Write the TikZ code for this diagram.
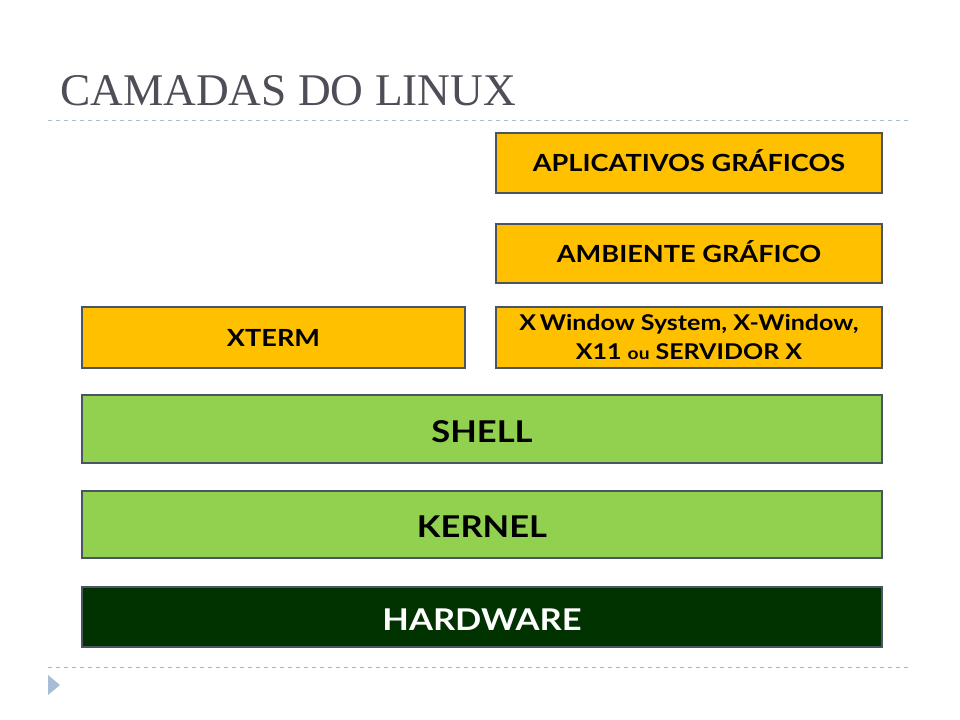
\documentclass[tikz,border=0pt]{standalone}
\usepackage{fontspec}
\setmainfont{Lato}[FakeStretch=1.15]
\newfontfamily\titlefont{Liberation Serif}
\definecolor{orangebox}{HTML}{FFC000}
\definecolor{greenbox}{HTML}{92D050}
\definecolor{darkbox}{HTML}{003300}
\definecolor{boxline}{HTML}{4A5462}
\definecolor{titlegray}{HTML}{4E4E58}
\definecolor{dashblue}{HTML}{A9BCCB}
\definecolor{trifill}{HTML}{A6BDD3}
\begin{document}
\begin{tikzpicture}[x=0.75pt,y=-0.75pt,
  layerbox/.style={draw=boxline,line width=1.5pt,inner sep=0pt,align=center,font=\bfseries},
  smalltxt/.style={font=\bfseries\fontsize{17.7}{20}\selectfont,text height=13.5pt,text depth=0pt},
  bigtxt/.style={font=\bfseries\fontsize{22.5}{24}\selectfont,text height=20pt,text depth=0pt}]
\useasboundingbox[fill=white] (0,0) rectangle (960,720);
\node[anchor=base west,text=titlegray,inner sep=0pt,font=\titlefont\fontsize{34}{36}\selectfont] (title) at (60,106) {CAMADAS DO LINUX};
\draw[dashblue,dashed,line width=0.75pt] (48,121) -- (912,121);
\draw[gray!60,dashed,line width=0.75pt] (48,667) -- (912,667);
\fill[trifill] (48,675) -- (60,685) -- (48,695) -- cycle;
\node[layerbox,fill=orangebox,minimum width=386*0.75pt,minimum height=60*0.75pt,smalltxt] (apps) at (689,163) {APLICATIVOS GRÁFICOS};
\node[layerbox,fill=orangebox,minimum width=386*0.75pt,minimum height=59*0.75pt,smalltxt] (amb) at (689,253.5) {AMBIENTE GRÁFICO};
\node[layerbox,fill=orangebox,minimum width=383*0.75pt,minimum height=61*0.75pt,smalltxt] (xterm) at (273.5,337.5) {XTERM};
\node[layerbox,fill=orangebox,minimum width=386*0.75pt,minimum height=61*0.75pt,font=\bfseries\fontsize{16.3}{21.75}\selectfont,text height=33.55pt,text depth=0pt] (xwin) at (689,337.5) {X\,Window System, X-Window,\\ X11 {\fontsize{12.5}{14}\selectfont ou} SERVIDOR X};
\node[layerbox,fill=greenbox,minimum width=800*0.75pt,minimum height=68*0.75pt,bigtxt] (shell) at (482,429) {SHELL};
\node[layerbox,fill=greenbox,minimum width=800*0.75pt,minimum height=67*0.75pt,bigtxt] (kernel) at (482,524.5) {KERNEL};
\node[layerbox,fill=darkbox,text=white,minimum width=800*0.75pt,minimum height=60*0.75pt,bigtxt] (hw) at (482,617) {HARDWARE};
\end{tikzpicture}
\end{document}
